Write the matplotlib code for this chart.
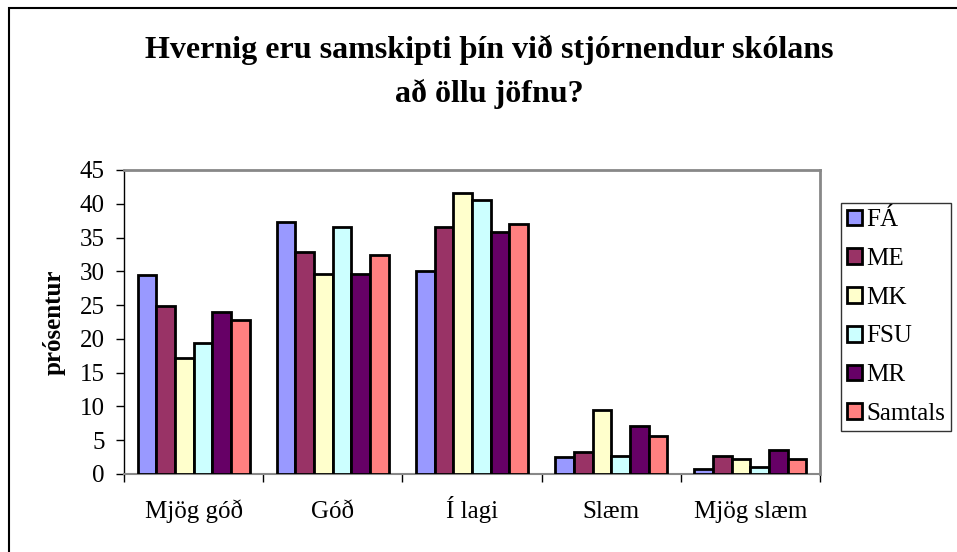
import matplotlib
matplotlib.use("Agg")
import matplotlib.pyplot as plt
from matplotlib.patches import Rectangle
import numpy as np

categories = ["Mjög góð", "Góð", "Í lagi", "Slæm", "Mjög slæm"]
series_names = ["FÁ", "ME", "MK", "FSU", "MR", "Samtals"]
FA = [29.4, 37.3, 30.1, 2.5, 0.7]
ME = [24.8, 32.8, 36.6, 3.2, 2.6]
MK = [17.2, 29.6, 41.6, 9.4, 2.2]
FSU = [19.4, 36.6, 40.5, 2.6, 1.0]
MR = [24.0, 29.6, 35.8, 7.1, 3.5]
Samtals = [22.8, 32.4, 37.0, 5.6, 2.2]
series_values = [FA, ME, MK, FSU, MR, Samtals]
colors = ["#9999FF", "#993366", "#FFFFCC", "#CCFFFF", "#660066", "#FF8080"]
yticks = [0, 5, 10, 15, 20, 25, 30, 35, 40, 45]

plt.rcParams['font.family'] = ['Liberation Serif', 'DejaVu Serif']

fig = plt.figure(figsize=(9.57, 5.52), dpi=100)
# outer border (runs off the right and bottom edges)
fig.patches.append(Rectangle((9/957, -0.2), 1.2, 1.2 - 8/552, transform=fig.transFigure,
                             fill=False, edgecolor='black', linewidth=1.5))

ax = fig.add_axes([124/957, (552-474)/552, 696/957, 304/552])
x = np.arange(len(categories))
bw = 0.134
n = len(series_names)
for i, (name, vals, c) in enumerate(zip(series_names, series_values, colors)):
    ax.bar(x + (i - (n-1)/2) * bw, vals, bw, color=c, edgecolor='black',
           linewidth=2, label=name, zorder=3)

ax.set_xlim(-0.5, len(categories) - 0.5)
ax.set_ylim(0, 45)
ax.set_yticks(yticks)
ax.set_yticklabels([str(v) for v in yticks], fontsize=18)
ax.set_xticks(np.arange(-0.5, len(categories)), minor=False)
ax.set_xticklabels([])
ax.set_xticks(x, minor=True)
ax.set_xticklabels(categories, minor=True, fontsize=18, va='baseline')
ax.tick_params(axis='x', which='minor', length=0, pad=32)
ax.tick_params(axis='x', which='major', length=6, width=1, color='black', direction='out')
ax.tick_params(axis='y', length=6, width=1, direction='out', pad=8)
for s in ['top', 'right']:
    ax.spines[s].set_color('#888888')
    ax.spines[s].set_linewidth(2)
ax.spines['bottom'].set_color('#888888')
ax.spines['bottom'].set_linewidth(1.5)
ax.spines['left'].set_color('black')
ax.spines['left'].set_linewidth(1)
ax.set_ylabel("prósentur", fontsize=18, fontweight='bold')
ax.yaxis.set_label_coords(-(124 - 66) / 696, 0.5)

fig.text(489/957, 1 - 50/552, "Hvernig eru samskipti þín við stjórnendur skólans",
         ha='center', va='center', fontsize=23, fontweight='bold')
fig.text(489/957, 1 - 94/552, "að öllu jöfnu?",
         ha='center', va='center', fontsize=23, fontweight='bold')

leg = fig.legend(loc='upper left', bbox_to_anchor=(841/957, 1 - 203/552),
                 fontsize=18, frameon=True, fancybox=False, edgecolor='black',
                 handlelength=0.6, handleheight=0.6, handletextpad=0.15,
                 labelspacing=0.67, borderpad=0.25, borderaxespad=0)
leg.get_frame().set_linewidth(1)

fig.savefig("out.png", dpi=100)
